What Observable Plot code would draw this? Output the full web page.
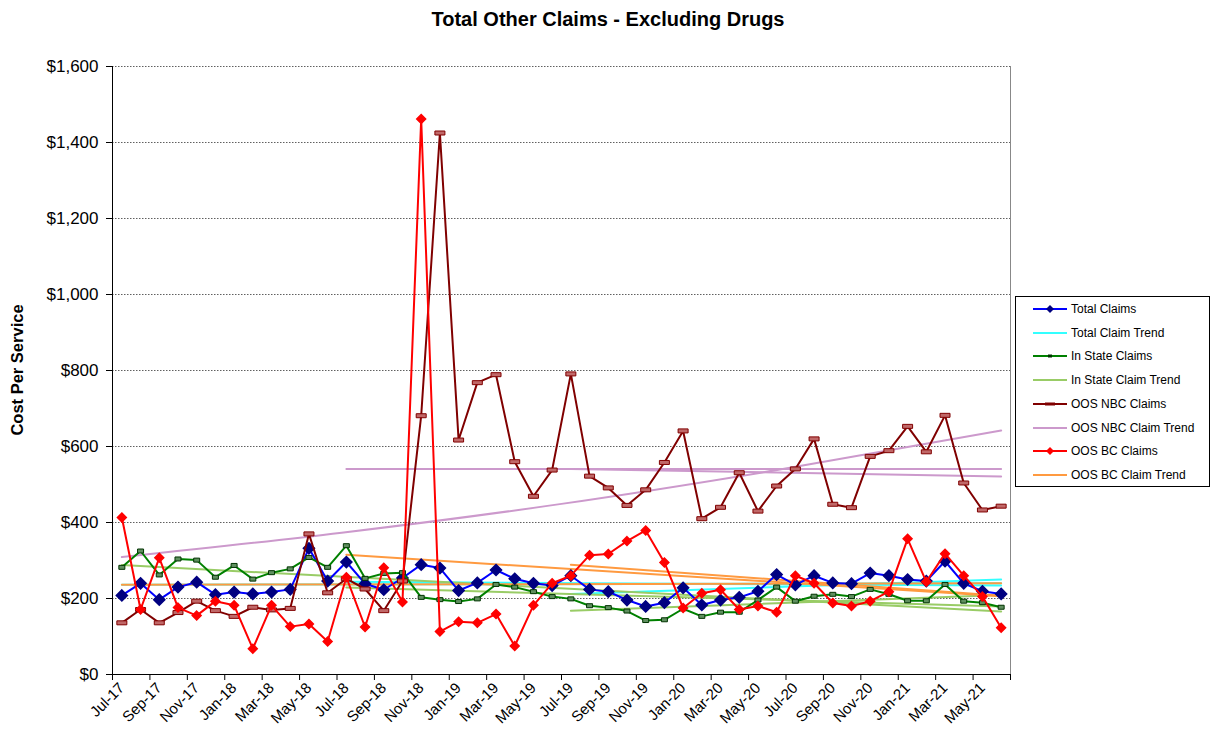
<!DOCTYPE html>
<html><head><meta charset="utf-8">
<script src="https://cdn.jsdelivr.net/npm/d3@7"></script>
<script src="https://cdn.jsdelivr.net/npm/@observablehq/plot@0.6"></script>
<style>
body{margin:0;background:#fff;font-family:"Liberation Sans",Arial,sans-serif;}
#wrap{position:relative;width:1211px;height:732px;overflow:hidden;}
#chart{position:absolute;left:0;top:0;}
#title{position:absolute;top:8px;left:0;width:1216px;text-align:center;font-weight:bold;font-size:20px;}
#ylab{position:absolute;left:17px;top:370px;transform:translate(-50%,-50%) rotate(-90deg);font-weight:bold;font-size:16.5px;white-space:nowrap;}
#legend{position:absolute;left:1015px;top:296px;width:195px;height:191px;border:1px solid #000;box-sizing:border-box;font-size:12px;}
.li{position:absolute;left:0;height:20px;display:flex;align-items:center;}
.li svg{margin-left:17px;margin-right:4px;}
</style></head><body>
<div id="wrap">
<div id="chart"></div>
<div id="title">Total Other Claims - Excluding Drugs</div>
<div id="ylab">Cost Per Service</div>
<div id="legend"></div>
</div>
<script>
// ---- categories ----
const months = ["Jul-17","Aug-17","Sep-17","Oct-17","Nov-17","Dec-17","Jan-18","Feb-18","Mar-18","Apr-18","May-18","Jun-18",
"Jul-18","Aug-18","Sep-18","Oct-18","Nov-18","Dec-18","Jan-19","Feb-19","Mar-19","Apr-19","May-19","Jun-19",
"Jul-19","Aug-19","Sep-19","Oct-19","Nov-19","Dec-19","Jan-20","Feb-20","Mar-20","Apr-20","May-20","Jun-20",
"Jul-20","Aug-20","Sep-20","Oct-20","Nov-20","Dec-20","Jan-21","Feb-21","Mar-21","Apr-21","May-21","Jun-21"];

// ---- series values (cost per service, $) ----
const totalClaims = [208,240,197,230,243,210,217,212,217,224,332,246,296,239,223,254,
289,280,221,241,275,252,240,234,260,224,218,196,179,189,228,183,
196,203,219,263,236,260,241,239,267,260,250,246,298,240,219,212];
const inStateClaims = [282,325,262,304,301,256,287,251,268,278,308,282,339,253,266,268,
203,197,192,199,237,230,218,205,199,181,176,167,142,144,173,153,
164,164,196,230,193,206,211,205,224,211,194,194,237,193,189,177];
const oosNbcClaims = [136,171,136,163,193,168,153,177,170,174,370,215,252,225,168,246,
681,1425,617,768,789,560,469,538,791,522,491,445,486,558,641,410,
440,531,430,496,541,620,448,439,574,589,653,586,682,504,433,443];
const oosBcClaims = [413,171,307,176,155,193,182,68,182,126,133,87,256,125,281,191,
1462,113,139,136,159,75,182,240,260,314,317,351,379,295,175,214,
223,171,180,164,260,240,188,180,193,218,357,244,318,260,205,123];

// ---- trend lines: start month index of each fitted period, values from start to last month ----
const trendStarts = [0, 12, 24];               // Jul-17, Jul-18, Jul-19
const totalTrend   = [[236,240],[244,234],[212,250]];
const inStateTrend = [[288,166],[229,179],[168,209]];
const oosNbcTrend  = [[309,373,449,540,642],[541,541],[541,521]];
const oosBcTrend   = [[236,240],[315,206],[289,207]];

// ---- axis ticks ----
const yTicks = [0,200,400,600,800,1000,1200,1400,1600];
const labelTicks = d3.range(0, months.length, 2);
const boundaryTicks = d3.range(-0.5, months.length, 2);

const colors = {
  total:"#0000FF", totalMarker:"#000080", totalTrend:"#33FFFF",
  inState:"#008000", inStateTrend:"#99CC66",
  nbc:"#800000", nbcTrend:"#CC99CC",
  bc:"#FF0000", bcTrend:"#FF9A40"
};

const rows = months.map((m, i) => ({i, m, total: totalClaims[i], inState: inStateClaims[i], nbc: oosNbcClaims[i], bc: oosBcClaims[i]}));
const last = months.length - 1;
function trendRows(sets) {
  const out = [];
  sets.forEach((vals, k) => {
    const s = trendStarts[k];
    vals.forEach((v, j) => out.push({k, i: s + (last - s) * j / (vals.length - 1), v}));
  });
  return out;
}

const rectSym = {draw(ctx){ ctx.rect(-5, -2, 10, 4); }};
const smallSq = {draw(ctx){ ctx.rect(-3, -2, 6, 4); }};

const trendLine = (sets, stroke) => Plot.line(trendRows(sets), {x:"i", y:"v", z:"k", stroke, strokeWidth:2, curve:"monotone-x"});

const chart = Plot.plot({
  width: 1211, height: 732,
  marginTop: 66, marginBottom: 58, marginLeft: 112, marginRight: 201,
  style: {fontFamily: "'Liberation Sans', Arial, sans-serif", background: "transparent", color:"#000"},
  x: {type: "linear", domain: [-0.5, months.length - 0.5]},
  y: {domain: [0, 1600]},
  marks: [
    Plot.gridY(yTicks, {stroke:"#444", strokeOpacity:0.85, strokeDasharray:"1.5,1.5"}),
    Plot.ruleX([months.length - 0.5], {stroke:"#888"}),
    Plot.axisY({ticks: yTicks, tickFormat: d => "$" + d3.format(",")(d), tickSize: 6, tickPadding: 8, fontSize: 17, label: null}),
    Plot.axisX({ticks: boundaryTicks, tickFormat: () => "", tickSize: 6, label: null}),
    Plot.axisX({ticks: labelTicks, tickFormat: i => months[i], tickSize: 0, tickRotate: -45, fontSize: 15, tickPadding: 11, label: null}),
    trendLine(totalTrend, colors.totalTrend),
    trendLine(inStateTrend, colors.inStateTrend),
    trendLine(oosNbcTrend, colors.nbcTrend),
    trendLine(oosBcTrend, colors.bcTrend),
    Plot.line(rows, {x:"i", y:"total", stroke: colors.total, strokeWidth: 2}),
    Plot.dot(rows, {x:"i", y:"total", symbol:"diamond2", r:5, fill: colors.totalMarker, stroke: colors.totalMarker}),
    Plot.line(rows, {x:"i", y:"inState", stroke: colors.inState, strokeWidth: 2}),
    Plot.dot(rows, {x:"i", y:"inState", symbol: smallSq, fill:"#5f8f5f", stroke:"#003300", strokeWidth:1}),
    Plot.line(rows, {x:"i", y:"nbc", stroke: colors.nbc, strokeWidth: 2}),
    Plot.dot(rows, {x:"i", y:"nbc", symbol: rectSym, fill:"#c06868", stroke: colors.nbc, strokeWidth:1}),
    Plot.line(rows, {x:"i", y:"bc", stroke: colors.bc, strokeWidth: 2}),
    Plot.dot(rows, {x:"i", y:"bc", symbol:"diamond2", r:4, fill: colors.bc, stroke: colors.bc}),
    Plot.ruleX([-0.5], {stroke:"#000"}),
    Plot.ruleY([0], {stroke:"#000"})
  ]
});
document.getElementById("chart").appendChild(chart);

// ---- legend ----
const legendItems = [
  {label:"Total Claims", color: colors.total, marker:"diamond", mfill: colors.totalMarker},
  {label:"Total Claim Trend", color: colors.totalTrend},
  {label:"In State Claims", color: colors.inState, marker:"sq", mfill:"#003300"},
  {label:"In State Claim Trend", color: colors.inStateTrend},
  {label:"OOS NBC Claims", color: colors.nbc, marker:"rect", mfill: colors.nbc},
  {label:"OOS NBC Claim Trend", color: colors.nbcTrend},
  {label:"OOS BC Claims", color: colors.bc, marker:"diamond", mfill: colors.bc},
  {label:"OOS BC Claim Trend", color: colors.bcTrend}
];
const leg = document.getElementById("legend");
legendItems.forEach((it, k) => {
  const div = document.createElement("div");
  div.className = "li";
  div.style.top = (2 + k * 23.7) + "px";
  let mk = "";
  if (it.marker === "diamond") mk = `<path d="M17,6 L21,10 L17,14 L13,10 Z" fill="${it.mfill}"/>`;
  if (it.marker === "sq") mk = `<rect x="15" y="8.5" width="4" height="3" fill="${it.mfill}"/>`;
  if (it.marker === "rect") mk = `<rect x="12" y="8.5" width="10" height="3" fill="${it.mfill}"/>`;
  div.innerHTML = `<svg width="34" height="20"><line x1="0" y1="10" x2="34" y2="10" stroke="${it.color}" stroke-width="2"/>${mk}</svg><span>${it.label}</span>`;
  leg.appendChild(div);
});
</script>
</body></html>
